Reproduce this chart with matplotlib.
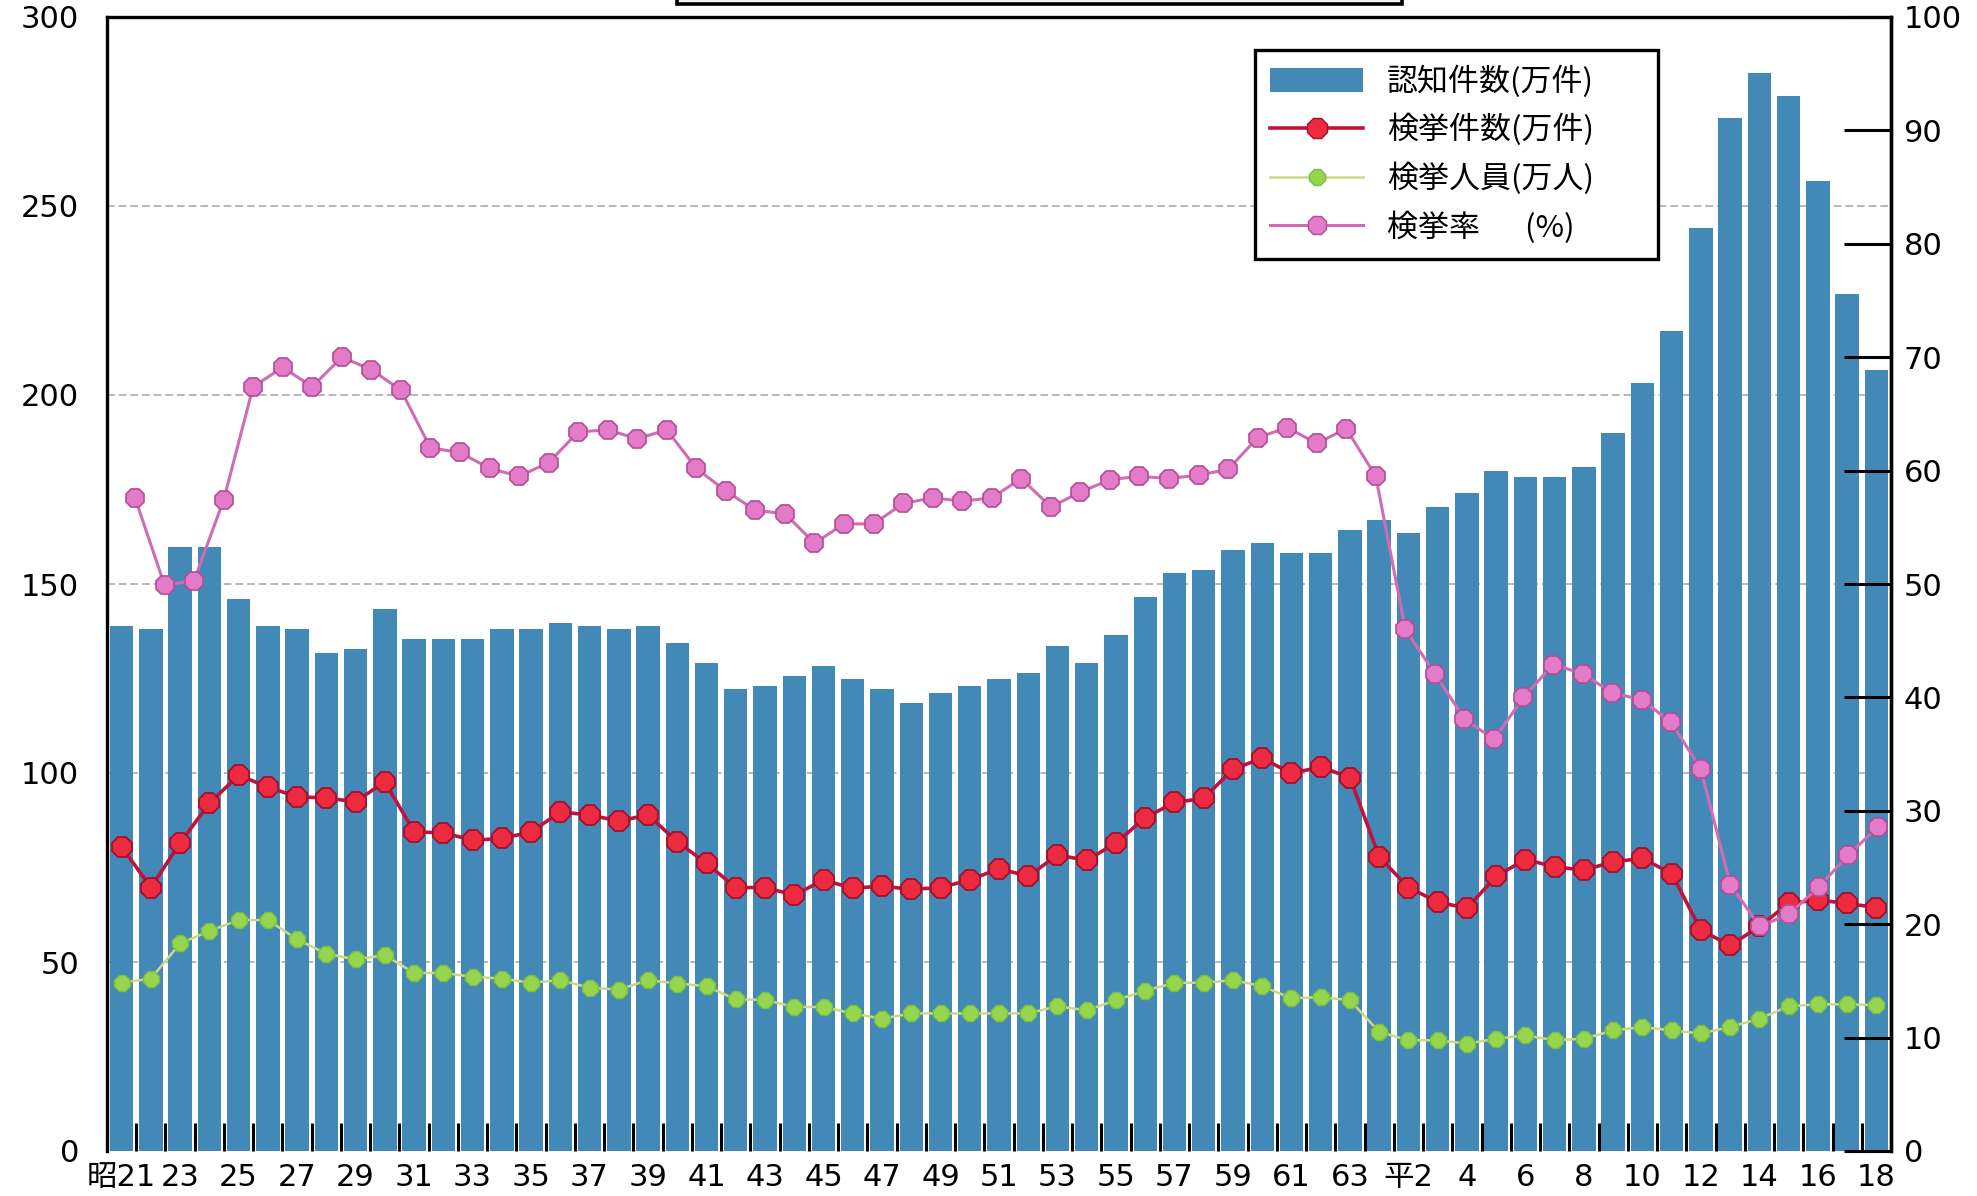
import matplotlib
matplotlib.use('Agg')
import matplotlib.pyplot as plt
import numpy as np
from matplotlib.patches import Rectangle, Patch
from matplotlib.lines import Line2D

plt.rcParams['font.family'] = ['DejaVu Sans', 'Noto Sans CJK JP']

# ---------------- data ----------------
tick_labels = ['昭21', '23', '25', '27', '29', '31', '33', '35', '37', '39', '41',
               '43', '45', '47', '49', '51', '53', '55', '57', '59', '61', '63',
               '平2', '4', '6', '8', '10', '12', '14', '16', '18']

# 認知件数 (万件)  昭21(1946) .. 平18(2006)
recognized = [138.9, 138.0, 159.9, 159.9, 145.9, 138.9, 138.0, 131.8, 132.7, 143.3,
              135.4, 135.4, 135.4, 138.0, 138.0, 139.8, 138.9, 138.0, 138.9, 134.5,
              129.2, 122.1, 123.0, 125.6, 128.3, 124.8, 122.1, 118.6, 121.2, 123.0,
              124.8, 126.5, 133.6, 129.2, 136.4, 146.6, 152.8, 153.7, 159.0, 160.8,
              158.1, 158.1, 164.3, 166.9, 163.4, 170.5, 174.0, 180.0, 178.2, 178.2,
              180.9, 189.9, 203.1, 216.8, 244.1, 273.3, 285.3, 279.2, 256.5, 226.8,
              206.5]

# 検挙件数 (万件)
cleared_cases = [80.5, 69.7, 81.5, 92.0, 99.4, 96.3, 93.7, 93.4, 92.4, 97.7,
                 84.4, 84.2, 82.2, 82.7, 84.4, 89.7, 88.9, 87.3, 88.9, 81.8,
                 76.1, 69.7, 69.7, 67.7, 71.7, 69.5, 70.1, 69.2, 69.7, 71.7,
                 74.7, 72.7, 78.3, 76.9, 81.5, 88.2, 92.2, 93.3, 101.0, 103.9,
                 99.9, 101.6, 98.8, 77.8, 69.7, 65.9, 64.2, 72.7, 77.1, 75.2,
                 74.3, 76.5, 77.4, 73.4, 58.4, 54.4, 59.4, 65.5, 66.4, 65.5,
                 64.4]

# 検挙人員 (万人)
arrested_persons = [44.5, 45.6, 54.9, 58.2, 61.1, 61.1, 56.0, 52.2, 50.7, 51.8,
                    47.1, 47.1, 46.1, 45.6, 44.5, 45.2, 43.2, 42.7, 45.2, 44.3,
                    43.6, 40.1, 40.0, 38.1, 38.1, 36.4, 35.0, 36.4, 36.4, 36.4,
                    36.4, 36.4, 38.3, 37.2, 39.9, 42.4, 44.5, 44.5, 45.2, 43.6,
                    40.4, 40.7, 39.9, 31.5, 29.3, 29.3, 28.4, 29.7, 30.6, 29.3,
                    29.7, 31.9, 32.8, 31.9, 31.1, 32.8, 35.0, 38.3, 38.8, 38.8,
                    38.6]

# 検挙率 (%)  昭21(1946) .. 平17(2005)
clearance_rate = [57.6, 49.9, 50.3, 57.4, 67.4, 69.1, 67.4, 70.0, 68.9, 67.1,
                  62.0, 61.6, 60.2, 59.5, 60.7, 63.4, 63.6, 62.8, 63.6, 60.2,
                  58.2, 56.5, 56.2, 53.6, 55.3, 55.3, 57.1, 57.6, 57.3, 57.6,
                  59.3, 56.8, 58.1, 59.2, 59.5, 59.3, 59.6, 60.1, 62.9, 63.8,
                  62.4, 63.7, 59.5, 46.0, 42.1, 38.1, 36.3, 40.0, 42.9, 42.1,
                  40.4, 39.8, 37.8, 33.7, 23.5, 19.8, 20.9, 23.3, 26.1, 28.6]

legend_labels = ['認知件数(万件)', '検挙件数(万件)', '検挙人員(万人)', '検挙率　  (%)']

# ---------------- styles ----------------
BAR = '#4389b8'
W, H = 1977, 1196

fig = plt.figure(figsize=(W / 100, H / 100), dpi=100)
rect = [107 / W, 45 / H, (1891 - 107) / W, (1151 - 17) / H]
ax = fig.add_axes(rect)

x = np.arange(len(recognized))
ax.bar(x, recognized, width=0.8, color=BAR, zorder=1)
ax.set_xlim(-0.5, len(recognized) - 0.5)
ax.set_ylim(0, 300)

for v in [50, 100, 150, 200, 250]:
    ax.axhline(v, color='#b8b8b8', lw=1.4, ls=(0, (4, 2)), zorder=0.5)

ax.set_yticks(range(0, 301, 50))
ax.tick_params(axis='y', length=0, pad=20, labelsize=22)

ax.set_xticks(x[::2])
ax.set_xticklabels(tick_labels)
ax.tick_params(axis='x', which='major', length=0, pad=9, labelsize=22)
ax.set_xticks(np.arange(0.5, len(recognized) - 1, 1), minor=True)
ax.tick_params(axis='x', which='minor', direction='in', length=20, width=2.2,
               color='black')

ax.spines['bottom'].set_visible(False)
for s in ['left', 'top', 'right']:
    ax.spines[s].set_linewidth(2.4)
    ax.spines[s].set_color('black')

ax.plot(x, cleared_cases, color='#c0123a', lw=2.6, marker='8', ms=15,
        mfc='#ec2b40', mec='#a50f2a', mew=1.3, zorder=3)
ax.plot(x, arrested_persons, color='#cbd987', lw=1.8, marker='8', ms=13,
        mfc='#96d64e', mec='#7cbd3e', mew=1.0, zorder=3)

ax2 = ax.twinx()
ax2.set_ylim(0, 100)
ax2.set_yticks(range(0, 101, 10))
ax2.tick_params(axis='y', direction='in', length=34, width=2.2, pad=9,
                labelsize=22, color='black')
for s in ['left', 'top', 'bottom']:
    ax2.spines[s].set_visible(False)
ax2.spines['right'].set_linewidth(2.4)

# clearance-rate overlay (drawn on its own x scale, as in the original)
ax3 = fig.add_axes(rect, label='rate')
ax3.patch.set_visible(False)
ax3.set_xlim(-0.948, 59.44)
ax3.set_ylim(0, 100)
ax3.axis('off')
ax3.plot(np.arange(len(clearance_rate)), clearance_rate, color='#d06cb6', lw=2.2,
         marker='8', ms=14, mfc='#e47bc9', mec='#b44c96', mew=1.2, zorder=4)

handles = [
    Patch(facecolor=BAR, edgecolor='none'),
    Line2D([], [], color='#c0123a', lw=2.6, marker='8', ms=15, mfc='#ec2b40', mec='#a50f2a'),
    Line2D([], [], color='#cbd987', lw=1.8, marker='8', ms=13, mfc='#96d64e', mec='#7cbd3e'),
    Line2D([], [], color='#d06cb6', lw=2.2, marker='8', ms=14, mfc='#e47bc9', mec='#b44c96'),
]
leg = ax3.legend(handles, legend_labels, loc='upper left',
                 bbox_to_anchor=(1255 / W, 1 - 256 / H, (1658 - 1255) / W, (256 - 50) / H),
                 bbox_transform=fig.transFigure, mode='expand', borderaxespad=0,
                 frameon=True, fancybox=False, edgecolor='black', framealpha=1,
                 prop={'family': ['Noto Sans CJK JP'], 'size': 22.3},
                 handlelength=3.0, handleheight=0.8, handletextpad=0.75,
                 labelspacing=0.52, borderpad=0.5)
leg.get_frame().set_linewidth(2.4)

# cut-off title frame at the very top
fig.patches.append(Rectangle((677 / W, 1 - 4 / H), (1402 - 677) / W, 0.05,
                             transform=fig.transFigure, facecolor='#f2f2f2',
                             edgecolor='black', lw=2.6))

fig.savefig('out.png', dpi=100)
